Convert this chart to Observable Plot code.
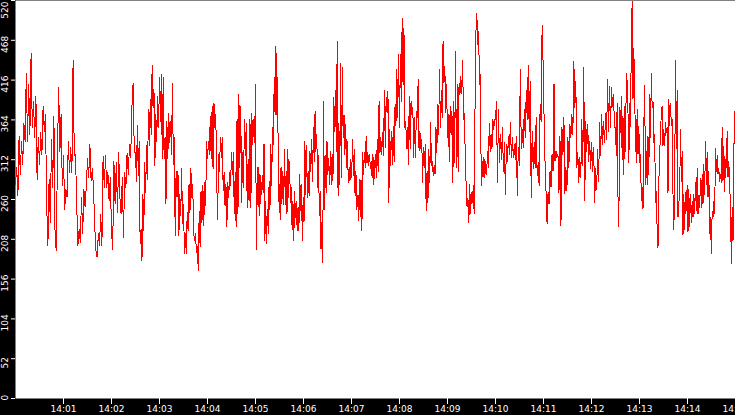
<!DOCTYPE html>
<html><head><meta charset="utf-8">
<script src="https://cdn.jsdelivr.net/npm/d3@7"></script>
<script src="https://cdn.jsdelivr.net/npm/@observablehq/plot@0.6"></script>
<style>html,body{margin:0;padding:0;background:#000;overflow:hidden}</style>
</head><body><div id="chart"></div>
<script>
// Values, one array per 2.5-minute stretch (14:00:00 .. 14:15:00)
const seg1 = [280,302,265,343,293,336,306,360,336,425,336,410,345,451,354,388,341,395,286,341,306,347,319,382,349,371,252,200,286,230,339,276,369,208,193,326,406,323,371,278,317,247,273,263,336,295,328,295,442,317,319,254,200,221,204,263,215,273,250,278,313,289,332,284,300,276,226,193,185,215,200,241,200,317,276,317,276,295,258,289,219,195,310,254,308,243,321,263,241,289,211,295,276,321,293,332,315,380,412,321];
const seg2 = [321,284,357,291,336,202,221,180,267,219,308,269,330,286,378,330,391,345,435,380,404,304,371,336,395,354,419,362,424,313,419,313,341,254,362,313,373,334,362,319,412,306,341,213,297,263,297,213,267,239,300,228,254,189,215,189,243,219,280,243,300,263,280,217,206,215,191,198,167,245,198,271,230,278,226,282,252,336,313,336,319,369,313,382,300,386,354,371,284,234,319,297,341,315,341,271,295,252,280,224,282,263,295,278,321,293,321,241,295,224,365,241,397,302,382,256,321,276,365,317,360,250,313,258,365,250,373,332,365,334];
const seg3 = [410,195,302,250,302,239,291,267,291,269,332,206,258,202,247,215,284,247,332,278,354,332,419,371,460,371,419,258,280,234,302,254,297,254,326,254,297,241,326,263,310,256,276,221,258,206,271,237,258,219,250,219,293,245,280,206,263,230,336,267,330,263,297,265,323,297,339,284,354,310,375,323,345,276,317,239,271,195,230,178,388,247,317,269,336,293,313,280,323,280,319,284,393,349,402,323,467,265,360,280,438,289,432,341,371,319,358,302,336,282,302,284,313,289,339,291,326,265,297,247,265,232,286,237,286,219,321,293,321,302,343,308,321,304,319,300,310,289,319,280,306];
const seg4 = [319,289,339,297,388,321,341,319,347,317,402,328,393,373,402,256,352,304,349,306,356,310,384,356,430,367,449,354,449,388,497,410,484,354,362,326,354,306,395,326,388,371,380,315,367,315,375,367,417,323,349,326,339,282,328,302,332,245,297,256,326,282,360,304,310,291,304,293,354,321,384,345,430,354,402,367,467,412,434,373,410,341,371,310,382,345,375,282,388,308,454,302,410,297,412,397,421,399,441,365,373,317,278,250,262,230,280,241,269,256,278,241,384,480,503,462,480,410,423,278,310,289,315,289,310,293,323,302,360,323,345,326,365,352,365];
const seg5 = [365,388,282,378,308,345,312,354,297,334,267,332,310,343,319,360,315,341,315,332,312,343,265,328,304,430,326,352,328,378,341,402,365,435,349,414,263,349,300,334,302,367,291,308,278,384,362,487,438,365,306,269,228,269,254,297,276,319,297,411,310,323,315,319,269,343,226,354,319,367,267,302,271,341,302,358,341,371,345,440,380,414,302,321,282,315,289,365,304,432,258,362,323,358,310,336,300,334,297,328,256,300,273,326,284,360,317,371,332,362,334,373,339,417,349,408,354,406,382,397,354];
const seg6 = [354,317,386,263,224,380,347,395,312,369,293,382,323,425,414,373,308,386,356,469,519,391,458,391,343,308,378,319,356,308,319,258,276,247,356,409,280,323,280,343,293,397,341,425,380,388,334,345,256,271,219,197,282,319,347,373,382,330,352,330,360,347,354,269,391,356,386,356,365,267,221,276,441,326,402,237,256,267,352,284,323,213,267,221,269,245,278,217,273,224,267,230,258,237,267,241,282,245,300,241,265,250,287,250,293,254,306,267,336,280,321,263,297,215,237,189,245,237,258,241,326,297,317,293,300,284,293,282,354,284,330,271,312,302,349,289,310,278,252,176,250,206,321,375];

const yTicks = [0,52,104,156,208,260,312,364,416,468,520];
const xTickLabels = ["14:01","14:02","14:03","14:04","14:05","14:06","14:07","14:08","14:09","14:10","14:11","14:12","14:13","14:14","14:15"];
const startTime = "14:00";
const endTime = "14:15";
const day = "2024-01-01";

const toDate = (hm) => new Date(`${day}T${hm}:00Z`);
const t0 = toDate(startTime).getTime();
const t1 = toDate(endTime).getTime();
const blocks = [seg1, seg2, seg3, seg4, seg5, seg6];
const blockMs = (t1 - t0) / blocks.length;
const data = [];
blocks.forEach((vals, k) => {
  vals.forEach((v, i) => {
    data.push({t: new Date(t0 + k * blockMs + i * blockMs / vals.length), v});
  });
});
const xTicks = xTickLabels.map(toDate);
const yMin = yTicks[0], yMax = yTicks[yTicks.length - 1];

const chart = Plot.plot({
  width: 735,
  height: 415,
  marginLeft: 15,
  marginRight: 0,
  marginTop: 0,
  marginBottom: 17,
  style: {background: "black", color: "white", fontFamily: "DejaVu Sans", fontSize: "9px", overflow: "hidden"},
  x: {type: "utc", domain: [new Date(t0), new Date(t1)]},
  y: {domain: [yMin, yMax]},
  marks: [
    Plot.frame({fill: "white"}),
    Plot.line(data, {x: "t", y: "v", stroke: "red", strokeWidth: 1, shapeRendering: "crispEdges"}),
    Plot.axisX({ticks: xTicks, tickFormat: d3.utcFormat("%H:%M"), tickSize: 6, tickPadding: 1, label: null, stroke: "white", fill: "white"}),
    Plot.axisY({ticks: yTicks, tickSize: 4, tickFormat: () => "", label: null, stroke: "white"}),
    Plot.text(yTicks.filter(d => d > yMin && d < yMax), {frameAnchor: "left", y: d => d, text: d => String(d), rotate: -90, textAnchor: "middle", dx: -10, dy: 4, fill: "white"}),
    Plot.text(yTicks.filter(d => d === yMax), {frameAnchor: "left", y: d => d, text: d => String(d), rotate: -90, textAnchor: "end", dx: -10, dy: 1, fill: "white"}),
    Plot.text(yTicks.filter(d => d === yMin), {frameAnchor: "left", y: d => d, text: d => String(d), rotate: -90, textAnchor: "start", dx: -10, dy: 2, fill: "white"})
  ]
});
document.getElementById("chart").appendChild(chart);
</script>
</body></html>
